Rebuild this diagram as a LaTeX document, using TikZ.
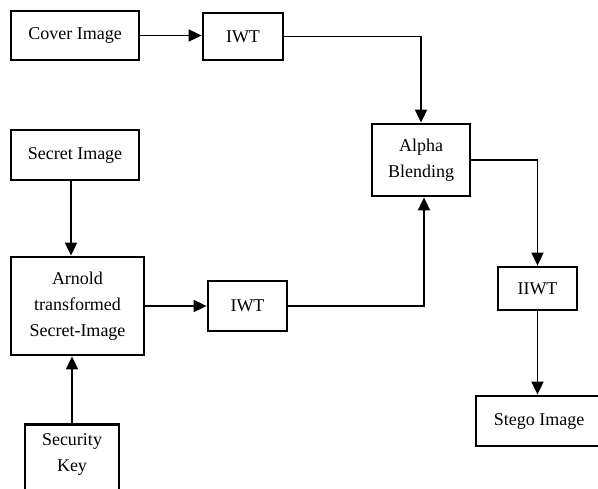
\documentclass[tikz,border=0pt]{standalone}
\usepackage{fontspec}
\setmainfont{Liberation Serif}
\usetikzlibrary{arrows.meta}
\begin{document}
\begin{tikzpicture}[
  x=1pt, y=-1pt,
  every node/.style={font=\fontsize{18}{26}\selectfont},
  blk/.style={draw, line width=2.8pt, align=center, inner sep=0pt},
  flow/.style={line width=1.8pt, -{Triangle[length=13pt,width=12pt]}}
]
\clip (0,0) rectangle (598,489);
\node[blk, minimum width=128, minimum height=49] (cover) at (75,35.5) {Cover Image};
\node[blk, minimum width=80, minimum height=47] (iwta) at (243,36.5) {IWT};
\node[blk, minimum width=98, minimum height=72] (alpha) at (421,160) {Alpha\\Blending};
\node[blk, minimum width=79, minimum height=43] (iiwt) at (537.5,288.5) {IIWT};
\node[blk, minimum width=126, minimum height=50] (stego) at (539,421) {Stego Image};
\node[blk, minimum width=128, minimum height=50] (secret) at (75,155) {Secret Image};
\node[blk, minimum width=133, minimum height=98] (arnold) at (77.5,306) {Arnold\\transformed\\Secret-Image};
\node[blk, minimum width=79, minimum height=50] (iwtb) at (247.5,306) {IWT};
\node[blk, minimum width=94, anchor=north, inner ysep=9.5pt, text depth=50pt] (security) at (72,423) {Security\\Key};
\draw[flow] (cover.east) -- (cover.east -| iwta.west);
\draw[flow] (iwta.east) -| (alpha.north);
\draw[flow] (alpha.east) -| (iiwt.north);
\draw[flow] (iiwt.south) -- (iiwt.south |- stego.north);
\draw[flow] ([xshift=-4pt]secret.south) -- ([xshift=-4pt]secret.south |- arnold.north);
\draw[flow] (security.north) -- (security.north |- arnold.south);
\draw[flow] (arnold.east |- iwtb.west) -- (iwtb.west);
\draw[flow] (iwtb.east) -| ([xshift=3pt]alpha.south);
\end{tikzpicture}
\end{document}
